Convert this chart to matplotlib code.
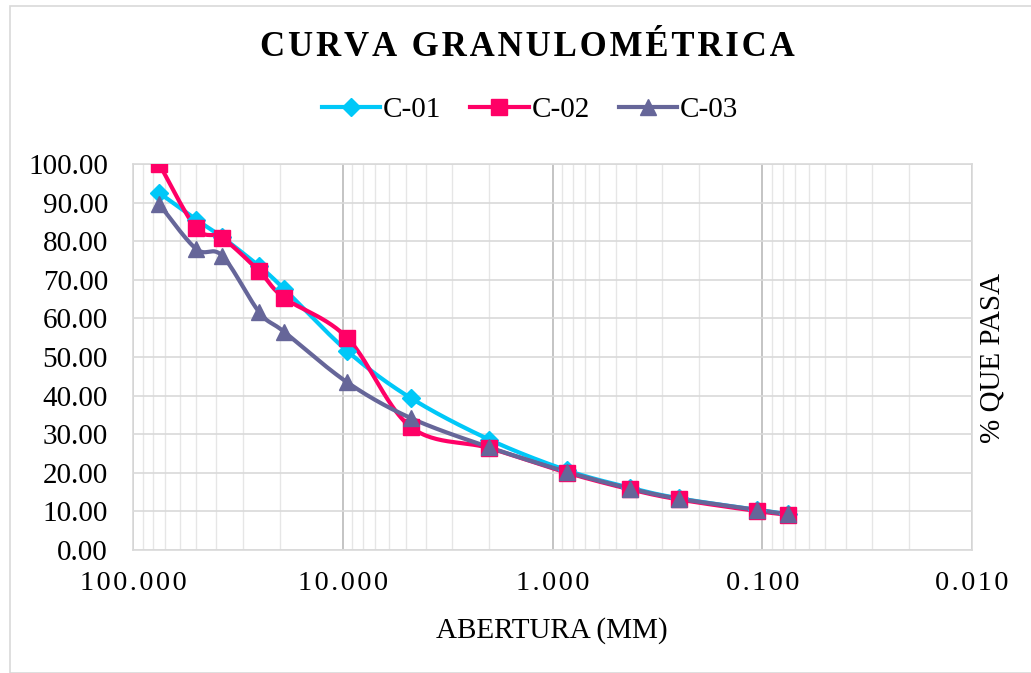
import matplotlib
matplotlib.use("Agg")
import matplotlib.pyplot as plt
import numpy as np
from matplotlib.patches import Rectangle
from matplotlib.lines import Line2D

# Sieve openings (mm) and percent passing for each sample
abertura = [75.0, 50.0, 37.5, 25.0, 19.0, 9.5, 4.75, 2.0, 0.85, 0.425, 0.25, 0.106, 0.075]
c01 = [92.5, 85.6, 81.0, 73.5, 67.6, 51.5, 39.4, 28.6, 20.6, 16.1, 13.4, 10.4, 9.3]
c02 = [100.0, 83.4, 80.8, 72.2, 65.3, 54.9, 31.9, 26.4, 20.0, 15.7, 13.1, 10.1, 9.1]
c03 = [89.6, 78.0, 76.2, 61.6, 56.5, 43.4, 34.2, 26.6, 20.2, 15.9, 13.3, 10.4, 9.2]

series_names = ["C-01", "C-02", "C-03"]
x_ticks = [100, 10, 1, 0.1, 0.01]
x_tick_labels = ["100.000", "10.000", "1.000", "0.100", "0.010"]
y_ticks = [0, 10, 20, 30, 40, 50, 60, 70, 80, 90, 100]

colors = ["#00C8F8", "#FF0066", "#666699"]
markers = ["D", "s", "^"]
marker_sizes = [9, 11, 12]

SERIF = ["Liberation Serif", "DejaVu Serif"]
plt.rcParams["font.family"] = SERIF
HAIR = "\u200a"


def spaced(text, sep=HAIR):
    return sep.join(text)


def smooth_curve(x, y, n=30):
    """Cardinal (Catmull-Rom) bezier smoothing in log-x space."""
    u = np.log10(np.asarray(x, dtype=float))
    v = np.asarray(y, dtype=float)
    pts = np.column_stack([u, v])
    out = []
    for i in range(len(pts) - 1):
        p0 = pts[i - 1] if i > 0 else pts[i]
        p1 = pts[i]
        p2 = pts[i + 1]
        p3 = pts[i + 2] if i + 2 < len(pts) else pts[i + 1]
        c1 = p1 + (p2 - p0) / 6.0
        c2 = p2 - (p3 - p1) / 6.0
        t = np.linspace(0, 1, n)[:, None]
        seg = ((1 - t) ** 3) * p1 + 3 * ((1 - t) ** 2) * t * c1 + 3 * (1 - t) * t ** 2 * c2 + t ** 3 * p2
        out.append(seg if i == 0 else seg[1:])
    seg = np.vstack(out)
    return 10 ** seg[:, 0], seg[:, 1]


fig = plt.figure(figsize=(10.31, 6.73), dpi=100)
fig.patches.append(Rectangle((10 / 1031, 0), 1.1, 1 - 6 / 673, transform=fig.transFigure,
                             fill=False, edgecolor="#D9D9D9", linewidth=1.2))

ax = fig.add_axes([133 / 1031, 1 - 550 / 673, (972 - 133) / 1031, (550 - 164) / 673])
ax.set_xscale("log")
ax.set_xlim(100, 0.01)
ax.set_ylim(0, 100)

for vals, color, marker, ms, name in zip([c01, c02, c03], colors, markers, marker_sizes, series_names):
    sx, sy = smooth_curve(abertura, vals)
    ax.plot(sx, sy, color=color, linewidth=3.0, solid_capstyle="round", zorder=3)
    ax.plot(abertura, vals, linestyle="none", marker=marker, markersize=ms,
            color=color, markeredgecolor=color, zorder=4)

# Grid
ax.set_yticks(y_ticks)
ax.set_yticklabels([f"{v:.2f}" for v in y_ticks])
ax.set_xticks(x_ticks)
ax.set_xticklabels([spaced(s) for s in x_tick_labels])
ax.xaxis.set_minor_locator(matplotlib.ticker.LogLocator(base=10, subs=np.arange(2, 10)))
ax.xaxis.set_minor_formatter(matplotlib.ticker.NullFormatter())
ax.grid(True, which="major", axis="x", color="#BFBFBF", linewidth=1.3)
ax.grid(True, which="minor", axis="x", color="#E6E6E6", linewidth=1.0)
ax.grid(True, which="major", axis="y", color="#D9D9D9", linewidth=1.2)
ax.set_axisbelow(True)
ax.tick_params(axis="both", which="both", length=0)
ax.tick_params(axis="y", pad=18, labelsize=21)
ax.tick_params(axis="x", pad=15, labelsize=20.5)
for sp in ax.spines.values():
    sp.set_color("#D9D9D9")
    sp.set_linewidth(1.2)

fig.text(527 / 1031, 1 - 48 / 673, spaced("CURVA GRANULOMÉTRICA"), ha="center", va="center",
         fontsize=25, fontweight="bold")
fig.text(552 / 1031, 1 - 631 / 673, "ABERTURA (MM)", ha="center", va="center", fontsize=21)
fig.text(993 / 1031, 1 - 358 / 673, "% QUE PASA", ha="center", va="center", rotation=90, fontsize=21)

handles = [Line2D([0], [0], color=c, linewidth=3.0, marker=m, markersize=ms, markeredgecolor=c)
           for c, m, ms in zip(colors, markers, marker_sizes)]
fig.legend(handles, series_names, loc="center", bbox_to_anchor=(530 / 1031, 1 - 110 / 673), ncol=3,
           frameon=False, fontsize=21, handlelength=2.0, handletextpad=0.1, columnspacing=1.0,
           borderaxespad=0)

fig.savefig("out.png", dpi=100)
